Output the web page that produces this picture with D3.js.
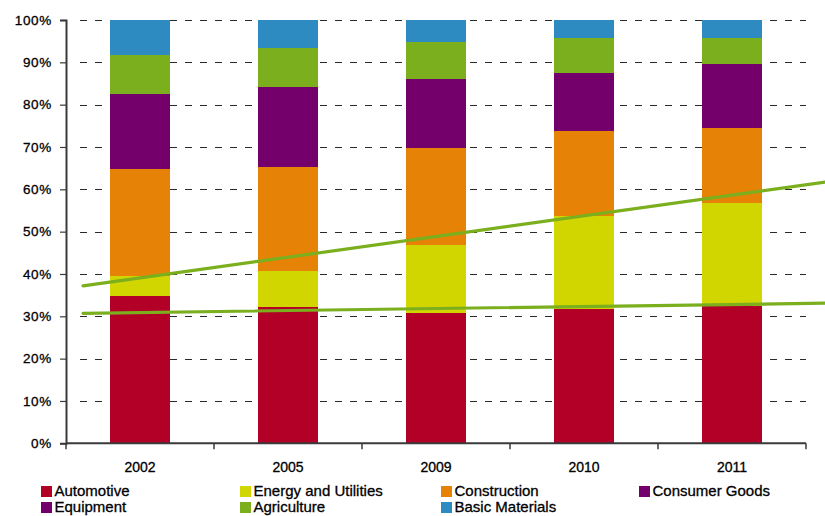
<!DOCTYPE html>
<html>
<head>
<meta charset="utf-8">
<script src="https://cdn.jsdelivr.net/npm/d3@7/dist/d3.min.js"></script>
<style>
  html, body { margin: 0; padding: 0; background: #fff; }
  svg { display: block; font-family: "Liberation Sans", Arial, sans-serif; }
  .lbl { fill: #000; stroke: #000; stroke-width: 0.3; }
</style>
</head>
<body>
<svg id="chart" width="825" height="516"></svg>
<script>
// Sector shares per year (percent of total, stacked bottom to top)
const years = ["2002", "2005", "2009", "2010", "2011"];
const automotive     = [34.8, 32.3, 30.8, 31.8, 32.4];
const energy         = [4.7, 8.4, 16.0, 21.9, 24.4];
const construction   = [25.3, 24.6, 23.0, 20.1, 17.7];
const consumerGoods  = [10.2, 11.0, 9.5, 8.0, 8.8];
const equipment      = [7.5, 7.9, 6.8, 5.7, 6.3];
const agriculture    = [9.2, 9.3, 8.7, 8.2, 6.1];
const basicMaterials = [8.3, 6.5, 5.2, 4.3, 4.3];

const seriesNames = ["Automotive", "Energy and Utilities", "Construction",
  "Consumer Goods", "Equipment", "Agriculture", "Basic Materials"];
const seriesColors = ["#B30027", "#D1D600", "#E68306", "#73006B", "#73006B", "#7BAF1E", "#2D8BC1"];
const seriesValues = [automotive, energy, construction, consumerGoods, equipment, agriculture, basicMaterials];

// Trend lines (percent at start and end of the line)
const trendLower = [30.7, 33.1];
const trendUpper = [37.2, 61.7];

const yTicks = [0, 10, 20, 30, 40, 50, 60, 70, 80, 90, 100];
const yTickLabels = ["0%", "10%", "20%", "30%", "40%", "50%", "60%", "70%", "80%", "90%", "100%"];

const svg = d3.select("#chart");

const plotLeft = 66, plotRight = 806, plotTop = 20, plotBottom = 443.3;

const x = d3.scaleBand().domain(years).range([plotLeft, plotRight]).padding(0);
const y = d3.scaleLinear().domain([0, 100]).range([plotBottom, plotTop]);
const barW = x.bandwidth() * 0.412;

// Table for stacking
const rows = years.map((yr, i) => {
  const r = { year: yr };
  seriesNames.forEach((n, k) => { r[n] = seriesValues[k][i]; });
  return r;
});
const stacked = d3.stack().keys(seriesNames)(rows);

// Dashed gridlines
svg.append("g").selectAll("line")
  .data(yTicks.filter(t => t > 0))
  .join("line")
  .attr("x1", plotLeft + 14).attr("x2", plotRight)
  .attr("y1", d => Math.round(y(d)) + 0.5).attr("y2", d => Math.round(y(d)) + 0.5)
  .attr("stroke", "#2a2a2a")
  .attr("stroke-width", 1)
  .attr("stroke-dasharray", "7,8");

// Stacked bars
svg.append("g").attr("shape-rendering", "crispEdges").selectAll("g")
  .data(stacked)
  .join("g")
  .attr("fill", (d, i) => seriesColors[i])
  .selectAll("rect")
  .data(d => d)
  .join("rect")
  .attr("x", d => x(d.data.year) + (x.bandwidth() - barW) / 2)
  .attr("width", barW)
  .attr("y", d => y(d[1]))
  .attr("height", d => y(d[0]) - y(d[1]));

// Y axis
const yAxis = d3.axisLeft(y).tickValues(yTicks)
  .tickFormat((d, i) => yTickLabels[i]).tickSize(6).tickPadding(8);
const gy = svg.append("g").attr("transform", `translate(${plotLeft},0)`).call(yAxis);
gy.select(".domain").attr("stroke", "#3a3a3a").attr("stroke-width", 2);
gy.selectAll(".tick line").attr("stroke", "#3a3a3a").attr("stroke-width", 1.2);
gy.selectAll(".tick text").attr("class", "lbl").attr("font-size", 13.5)
  .attr("letter-spacing", 0.7)
  .attr("font-family", "'Liberation Sans', Arial, sans-serif");

// X axis with tick marks on category boundaries
const gx = svg.append("g").attr("transform", `translate(0,${plotBottom})`);
gx.append("line").attr("x1", plotLeft).attr("x2", plotRight)
  .attr("y1", 0).attr("y2", 0).attr("stroke", "#3a3a3a").attr("stroke-width", 2);
const bounds = years.map(yr => x(yr)).concat([x(years[years.length - 1]) + x.bandwidth()]);
gx.selectAll("line.tk").data(bounds).join("line").attr("class", "tk")
  .attr("x1", d => d).attr("x2", d => d).attr("y1", 0).attr("y2", 6)
  .attr("stroke", "#3a3a3a").attr("stroke-width", 1.5);
gx.selectAll("text").data(years).join("text")
  .attr("class", "lbl")
  .attr("x", d => x(d) + x.bandwidth() / 2)
  .attr("y", 29)
  .attr("text-anchor", "middle")
  .attr("font-size", 14)
  .text(d => d);

// Trend lines, positioned along the category index axis
const idx = d3.scaleLinear().domain([0, years.length - 1])
  .range([x(years[0]) + x.bandwidth() / 2, x(years[years.length - 1]) + x.bandwidth() / 2]);
const trendSpan = [-0.385, 4.63];
const line = d3.line().x((d, i) => idx(trendSpan[i])).y(d => y(d));
[trendLower, trendUpper].forEach(t => {
  svg.append("path").datum(t)
    .attr("d", line)
    .attr("fill", "none")
    .attr("stroke", "#7BAF1E")
    .attr("stroke-width", 3.2)
    .attr("stroke-linecap", "round");
});

// Legend
const legendCols = [41, 240, 441, 639];
const legendRows = [486, 502];
const legend = svg.append("g").selectAll("g")
  .data(seriesNames)
  .join("g")
  .attr("transform", (d, i) => `translate(${legendCols[i % 4]},${legendRows[Math.floor(i / 4)]})`);
legend.append("rect").attr("width", 11).attr("height", 11)
  .attr("fill", (d, i) => seriesColors[i]);
legend.append("text").attr("class", "lbl").attr("x", 13.5).attr("y", 9.5)
  .attr("font-size", 15)
  .text(d => d);
</script>
</body>
</html>
